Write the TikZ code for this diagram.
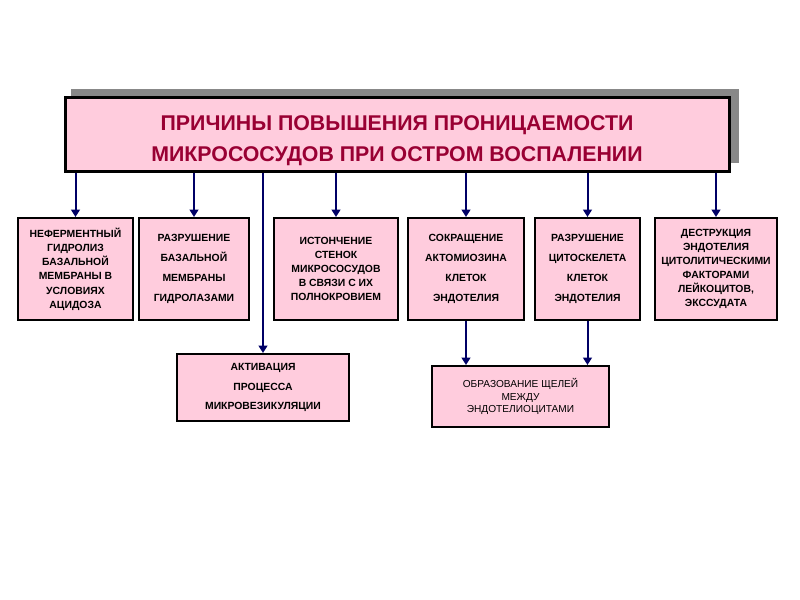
\documentclass[tikz,border=0pt]{standalone}
\usepackage{fontspec}
\setmainfont{Liberation Sans}
\usetikzlibrary{arrows.meta}
\definecolor{boxpink}{HTML}{FFCCDD}
\definecolor{titlered}{HTML}{990033}
\definecolor{navyline}{HTML}{000066}
\definecolor{shadowgray}{HTML}{888888}
\begin{document}
\begin{tikzpicture}[x=0.75pt,y=-0.75pt,
  box/.style={draw=black,line width=1.5pt,fill=boxpink,inner sep=0pt,align=center,minimum height=76.5pt},
  bf/.style={font=\bfseries\fontsize{7.8}{#1}\selectfont},
  arr/.style={draw=navyline,line width=1.5pt,-{Triangle[width=6.5pt,length=5.5pt]}}]
\useasboundingbox[fill=white] (0,0) rectangle (800,600);
% shadow of the title box
\fill[shadowgray] (71,89) rectangle (739,163);
\node[box,line width=2.25pt,minimum width=498pt,minimum height=55.5pt] (main) at (397,134) {};
\node[text=titlered,align=center,inner sep=0pt,
  font=\bfseries\fontsize{16}{23.25}\selectfont] (title) at ([yshift=-5pt]main.center)
  {ПРИЧИНЫ ПОВЫШЕНИЯ ПРОНИЦАЕМОСТИ\\МИКРОСОСУДОВ ПРИ ОСТРОМ ВОСПАЛЕНИИ};
\node[box,bf=10.7pt,minimum width=86.25pt] (b1) at (75.5,269)
  {НЕФЕРМЕНТНЫЙ\\ГИДРОЛИЗ\\БАЗАЛЬНОЙ\\МЕМБРАНЫ В\\УСЛОВИЯХ\\АЦИДОЗА};
\node[box,bf=14.8pt,minimum width=82.5pt] (b2) at (194,269)
  {РАЗРУШЕНИЕ\\БАЗАЛЬНОЙ\\МЕМБРАНЫ\\ГИДРОЛАЗАМИ};
\node[box,bf=10.5pt,minimum width=93pt] (b3) at (336,269)
  {ИСТОНЧЕНИЕ\\СТЕНОК\\МИКРОСОСУДОВ\\В СВЯЗИ С ИХ\\ПОЛНОКРОВИЕМ};
\node[box,bf=15.2pt,minimum width=87pt] (b4) at (466,269)
  {СОКРАЩЕНИЕ\\АКТОМИОЗИНА\\КЛЕТОК\\ЭНДОТЕЛИЯ};
\node[box,bf=15pt,minimum width=78.75pt] (b5) at (587.5,269)
  {РАЗРУШЕНИЕ\\ЦИТОСКЕЛЕТА\\КЛЕТОК\\ЭНДОТЕЛИЯ};
\node[box,bf=10.5pt,minimum width=91.5pt] (b6) at (716,269)
  {ДЕСТРУКЦИЯ\\ЭНДОТЕЛИЯ\\ЦИТОЛИТИЧЕСКИМИ\\ФАКТОРАМИ\\ЛЕЙКОЦИТОВ,\\ЭКССУДАТА};
\node[box,bf=14.6pt,minimum width=129pt,minimum height=50.25pt] (ba) at (263,387.5)
  {АКТИВАЦИЯ\\ПРОЦЕССА\\МИКРОВЕЗИКУЛЯЦИИ};
\node[box,font=\fontsize{7.6}{9.4}\selectfont,minimum width=132.75pt,minimum height=45.75pt] (bb) at (520.5,396.5)
  {ОБРАЗОВАНИЕ ЩЕЛЕЙ\\МЕЖДУ\\ЭНДОТЕЛИОЦИТАМИ};
% connectors
\foreach \t in {b1,b2,b3,b4,b5,b6,ba}
  \draw[arr] (main.south -| \t.north) -- (\t.north);
\draw[arr] (b4.south) -- (bb.north -| b4.south);
\draw[arr] (b5.south) -- (bb.north -| b5.south);
\end{tikzpicture}
\end{document}
